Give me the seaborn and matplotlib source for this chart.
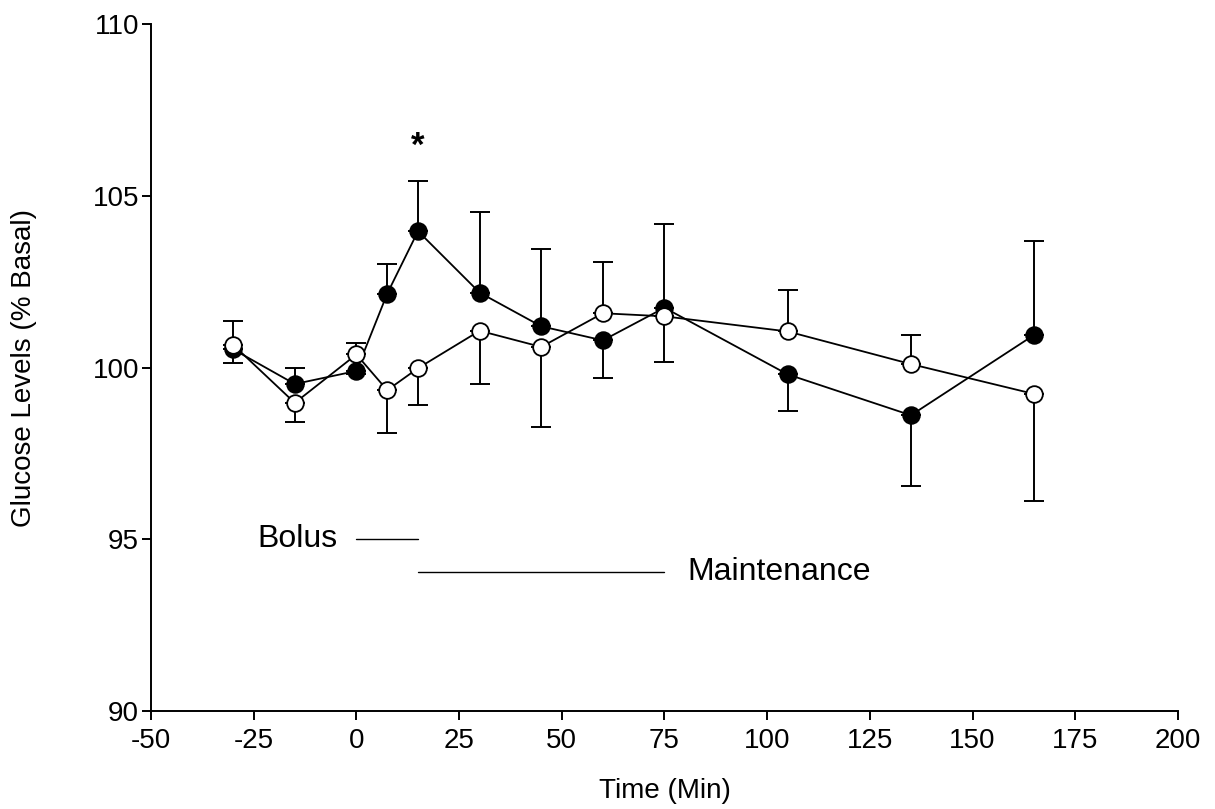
import matplotlib
matplotlib.use("Agg")
import matplotlib.pyplot as plt
import numpy as np
import seaborn as sns

# time points (min) and glucose levels (% basal)
time = [-30, -15, 0, 7.5, 15, 30, 45, 60, 75, 105, 135, 165]
filled_mean = [100.53, 99.52, 99.90, 102.15, 103.97, 102.18, 101.20, 100.79, 101.74, 99.80, 98.61, 100.95]
filled_sem = [0.39, 0.47, 0.10, 0.87, 1.47, 2.34, 2.24, 1.10, 2.45, 1.08, 2.05, 2.73]
open_mean = [100.66, 98.97, 100.38, 99.34, 99.98, 101.07, 100.60, 101.58, 101.49, 101.05, 100.10, 99.23]
open_sem = [0.69, 0.55, 0.33, 1.26, 1.08, 1.56, 2.34, 1.50, 1.34, 1.20, 0.85, 3.12]

x_ticks = [-50, -25, 0, 25, 50, 75, 100, 125, 150, 175, 200]
y_ticks = [90, 95, 100, 105, 110]

sns.set_theme(style="ticks")
plt.rcParams['font.family'] = ['Liberation Sans', 'DejaVu Sans']
plt.rcParams['axes.unicode_minus'] = False
plt.rcParams['axes.linewidth'] = 1.4
plt.rcParams['xtick.major.width'] = 1.4
plt.rcParams['ytick.major.width'] = 1.4
for key in ['text.color', 'axes.labelcolor', 'axes.edgecolor', 'xtick.color', 'ytick.color']:
    plt.rcParams[key] = 'black'

fig = plt.figure(figsize=(12.15, 8.09), dpi=100)
ax = fig.add_axes([0.1243, 0.1211, 0.8452, 0.8492])

fm, fs = np.array(filled_mean), np.array(filled_sem)
om, osd = np.array(open_mean), np.array(open_sem)

# only the half of each error bar pointing away from the other group is drawn
f_up = fm >= om
f_err = [np.where(f_up, 0, fs), np.where(f_up, fs, 0)]
o_err = [np.where(f_up, osd, 0), np.where(f_up, 0, osd)]

for mean, err in [(fm, f_err), (om, o_err)]:
    ax.errorbar(time, mean, yerr=err, fmt='none', ecolor='black',
                elinewidth=1.4, capsize=7, capthick=1.4, zorder=2)

sns.lineplot(x=time, y=filled_mean, ax=ax, color='black', linewidth=1.3,
             marker='o', markersize=12, markerfacecolor='black',
             markeredgecolor='black', markeredgewidth=1.3, zorder=3)
sns.lineplot(x=time, y=open_mean, ax=ax, color='black', linewidth=1.3,
             marker='o', markersize=12, markerfacecolor='white',
             markeredgecolor='black', markeredgewidth=1.3, zorder=4)

# annotations
ax.text(15, 106.45, '*', ha='center', va='center', fontsize=25, fontweight='bold')
ax.plot([0, 15], [95, 95], color='black', linewidth=1.0)
ax.text(-4.5, 95, 'Bolus', ha='right', va='center', fontsize=23)
ax.plot([15, 75], [94.05, 94.05], color='black', linewidth=1.0)
ax.text(80.5, 94.05, 'Maintenance', ha='left', va='center', fontsize=23)

ax.set_xlim(-50, 200)
ax.set_ylim(90, 110)
ax.set_xticks(x_ticks)
ax.set_yticks(y_ticks)
ax.tick_params(axis='both', labelsize=20, length=6.5, direction='out', colors='black')
ax.tick_params(axis='x', pad=6)
ax.tick_params(axis='y', pad=2)
ax.set_xlabel('Time (Min)', fontsize=20, labelpad=17)
ax.set_ylabel('Glucose Levels (% Basal)', fontsize=20, labelpad=40)
sns.despine(ax=ax)

fig.savefig('out.png', dpi=100)
